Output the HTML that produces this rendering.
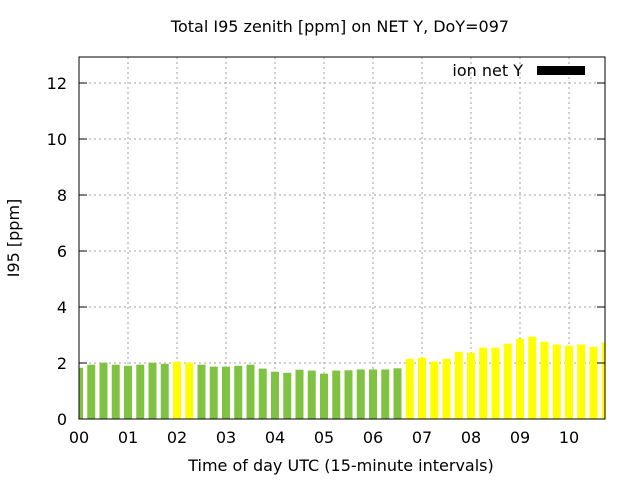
<!DOCTYPE html>
<html><head><meta charset="utf-8"><style>
body{margin:0;background:#fff}
text{font-family:"DejaVu Sans","Liberation Sans",sans-serif;font-size:16px;fill:#000}
</style></head><body>
<svg id="chart" width="640" height="480" xmlns="http://www.w3.org/2000/svg">
<g id="grid"></g>
<g id="bars"></g>
<rect x="79" y="57" width="526" height="362" fill="none" stroke="#000" stroke-width="1"/>
<g id="axes"></g>
<text x="340" y="32" text-anchor="middle" font-size="15.6">Total I95 zenith [ppm] on NET Y, DoY=097</text>
<text x="341" y="471" text-anchor="middle">Time of day UTC (15-minute intervals)</text>
<text transform="translate(19,238) rotate(-90)" text-anchor="middle">I95 [ppm]</text>
<g>
<text x="523" y="76" text-anchor="end">ion net Y</text>
<rect x="537" y="66" width="48" height="9" fill="#000"/>
</g>
</svg>
<script>
const values=[1.83,1.94,2.01,1.94,1.90,1.94,2.01,1.97,2.05,2.01,1.94,1.87,1.87,1.90,1.94,1.80,1.69,1.65,1.76,1.73,1.62,1.73,1.74,1.77,1.77,1.77,1.81,2.15,2.19,2.05,2.15,2.40,2.37,2.55,2.55,2.69,2.87,2.94,2.76,2.66,2.62,2.66,2.58,2.73];
const flags=[0,0,0,0,0,0,0,0,1,1,0,0,0,0,0,0,0,0,0,0,0,0,0,0,0,0,0,1,1,1,1,1,1,1,1,1,1,1,1,1,1,1,1,1];
const xTicks=["00","01","02","03","04","05","06","07","08","09","10"];
const yTicks=[0,2,4,6,8,10,12];
const NS="http://www.w3.org/2000/svg";
const L=79,R=605,T=57,B=419;
const xs=i=>L+i*12.25;
const ys=v=>B-v*28;
function mk(tag,attrs,parent){const e=document.createElementNS(NS,tag);for(const k in attrs)e.setAttribute(k,attrs[k]);parent.appendChild(e);return e;}
const grid=document.getElementById('grid'),bars=document.getElementById('bars'),axes=document.getElementById('axes');
const clip=mk('clipPath',{id:'pc'},document.getElementById('chart'));
mk('rect',{x:L,y:T,width:R-L,height:B-T},clip);
bars.setAttribute('clip-path','url(#pc)');
yTicks.forEach(v=>{
  const y=ys(v);
  if(v>0&&v<13){const g=mk('line',{x1:L,x2:R,y1:y,y2:y,stroke:'#a0a0a0','stroke-dasharray':'2,3'},grid);
  
  }
  const t=mk('line',{x1:L,x2:L+8,y1:y,y2:y,stroke:'#000'},axes);
  
  
  const t2=mk('line',{x1:R-8,x2:R,y1:y,y2:y,stroke:'#000'},axes);
  
  
  const l=mk('text',{x:L-12,y:y+6,'text-anchor':'end'},axes);l.textContent=v;
  
  
});
xTicks.forEach((s,i)=>{
  const x=xs(i*4);
  if(i>0){const g=mk('line',{x1:x,x2:x,y1:T,y2:B,stroke:'#a0a0a0','stroke-dasharray':'2,3'},grid);
  
  }
  const l=mk('text',{x:x,y:443,'text-anchor':'middle'},axes);l.textContent=s;
  
  
});
values.forEach((v,i)=>{
  const r=mk('rect',{x:xs(i)-4,y:ys(v),width:8,height:B-ys(v),fill:flags[i]?'#ffff00':'#80c342'},bars);
  
  
});
</script>
</body></html>
